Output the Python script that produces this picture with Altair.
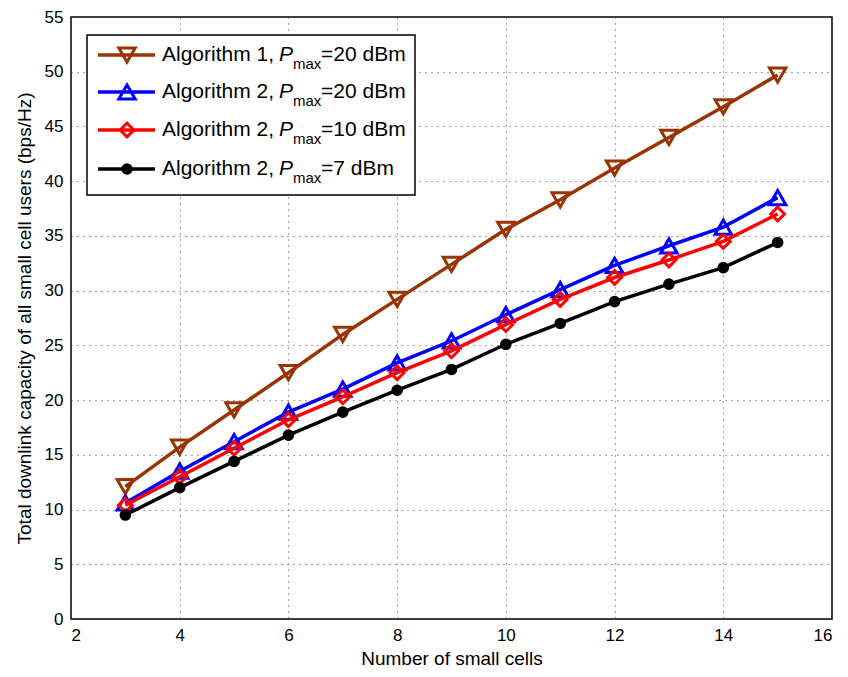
import altair as alt
import pandas as pd

# ---- data ----
cells = [3, 4, 5, 6, 7, 8, 9, 10, 11, 12, 13, 14, 15]
alg1_20 = [12.1, 15.7, 19.1, 22.5, 26.0, 29.2, 32.4, 35.6, 38.3, 41.2, 44.0, 46.8, 49.7]
alg2_20 = [10.6, 13.5, 16.2, 18.9, 21.0, 23.4, 25.4, 27.8, 30.1, 32.3, 34.1, 35.8, 38.5]
alg2_10 = [10.4, 13.0, 15.6, 18.2, 20.3, 22.5, 24.5, 26.9, 29.2, 31.2, 32.8, 34.5, 37.0]
alg2_7 = [9.5, 12.0, 14.4, 16.8, 18.9, 20.9, 22.8, 25.1, 27.0, 29.0, 30.6, 32.1, 34.4]

series_names = ["Algorithm 1, 20 dBm", "Algorithm 2, 20 dBm", "Algorithm 2, 10 dBm", "Algorithm 2, 7 dBm"]
series_values = [alg1_20, alg2_20, alg2_10, alg2_7]
legend_prefix = ["Algorithm 1,", "Algorithm 2,", "Algorithm 2,", "Algorithm 2,"]
legend_suffix = ["=20 dBm", "=20 dBm", "=10 dBm", "=7 dBm"]
colors = ["#993300", "#0000ff", "#ff0000", "#000000"]
shapes = ["triangle-down", "triangle-up", "diamond", "circle"]
filled = [False, False, False, True]
sizes = [270, 270, 190, 135]

x_ticks = [2, 4, 6, 8, 10, 12, 14, 16]
y_ticks = [0, 5, 10, 15, 20, 25, 30, 35, 40, 45, 50, 55]

FONT = "Liberation Sans"

x_enc = alt.X("cells:Q", scale=alt.Scale(domain=[2, 16], nice=False),
              axis=alt.Axis(values=x_ticks, title="Number of small cells",
                            labelPadding=8, titlePadding=6))
y_enc = alt.Y("value:Q", scale=alt.Scale(domain=[0, 55], nice=False),
              axis=alt.Axis(values=y_ticks,
                            title="Total downlink capacity of all small cell users (bps/Hz)",
                            labelPadding=8, titlePadding=10))

layers = []
for name, vals, col, shp, fl, sz in zip(series_names, series_values, colors, shapes, filled, sizes):
    df = pd.DataFrame({"cells": cells, "value": vals, "series": name})
    base = alt.Chart(df)
    layers.append(base.mark_line(color=col, strokeWidth=3.5).encode(x=x_enc, y=y_enc))
    if fl:
        pt = base.mark_point(shape=shp, filled=True, color=col, size=sz, opacity=1)
    else:
        pt = base.mark_point(shape=shp, filled=False, color=col, size=sz, strokeWidth=3, opacity=1)
    layers.append(pt.encode(x=x_enc, y=y_enc))

# ---- custom legend (MATLAB style with subscript) ----
one = pd.DataFrame({"a": [0]})
box = alt.Chart(one).mark_rect(fill="white", stroke="black", strokeWidth=1.5).encode(
    x=alt.value(16), x2=alt.value(344), y=alt.value(18), y2=alt.value(178))
layers.append(box)
row_y = [38, 75, 113, 152]
for i in range(4):
    ry = row_y[i]
    layers.append(alt.Chart(one).mark_rule(color=colors[i], strokeWidth=3.5).encode(
        x=alt.value(27), x2=alt.value(84), y=alt.value(ry)))
    if filled[i]:
        mk = alt.Chart(one).mark_point(shape=shapes[i], filled=True, color=colors[i], size=sizes[i], opacity=1)
    else:
        mk = alt.Chart(one).mark_point(shape=shapes[i], filled=False, color=colors[i], size=sizes[i],
                                       strokeWidth=3, opacity=1)
    layers.append(mk.encode(x=alt.value(56), y=alt.value(ry)))
    layers.append(alt.Chart(one).mark_text(text=legend_prefix[i], font=FONT, fontSize=21, align="right",
                                           baseline="middle", color="black").encode(
        x=alt.value(203), y=alt.value(ry)))
    layers.append(alt.Chart(one).mark_text(text="P", font=FONT, fontSize=21, fontStyle="italic",
                                           align="left", baseline="middle", color="black").encode(
        x=alt.value(208), y=alt.value(ry)))
    layers.append(alt.Chart(one).mark_text(text="max", font=FONT, fontSize=15, align="left",
                                           baseline="middle", color="black").encode(
        x=alt.value(222), y=alt.value(ry + 9)))
    layers.append(alt.Chart(one).mark_text(text=legend_suffix[i], font=FONT, fontSize=21, align="left",
                                           baseline="middle", color="black").encode(
        x=alt.value(250), y=alt.value(ry)))

chart = alt.layer(*layers).properties(
    width=761, height=602,
    padding={"left": 7, "top": 0, "right": 5, "bottom": 0},
).configure_view(
    stroke="black", strokeWidth=1.5
).configure_axis(
    labelFont=FONT, labelFontSize=17, labelColor="black",
    titleFont=FONT, titleFontSize=19, titleFontWeight="normal", titleColor="black",
    grid=True, gridDash=[1, 5], gridColor="#333333", gridWidth=1, gridOpacity=0.9,
    ticks=False, domain=False,
)

chart.save("out.html", embed_options={"renderer": "svg", "actions": False})
